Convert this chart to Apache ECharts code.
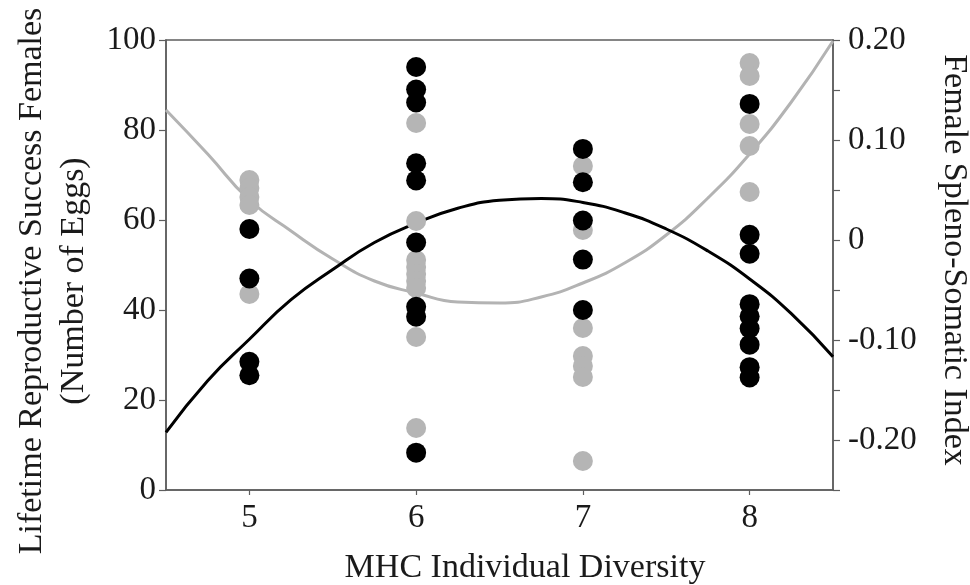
<!DOCTYPE html>
<html>
<head>
<meta charset="utf-8">
<script src="https://cdn.jsdelivr.net/npm/echarts@6.0.0/dist/echarts.min.js"></script>
<style>
html,body{margin:0;padding:0;background:#fff;}
#chart{width:970px;height:585px;}
</style>
</head>
<body>
<div id="chart"></div>
<script>
// Axis ticks / labels
const xTickValues = [5, 6, 7, 8];
const leftTicks = [0, 20, 40, 60, 80, 100];
const rightLabelValues = [-0.2, -0.1, 0, 0.1, 0.2];

// Lifetime reproductive success (black dots, left axis)
const lrsX = [5, 5, 5, 5,
              6, 6, 6, 6, 6, 6, 6, 6, 6,
              7, 7, 7, 7, 7,
              8, 8, 8, 8, 8, 8, 8, 8, 8];
const lrsY = [58.0, 47.0, 28.5, 25.5,
              94.0, 89.0, 86.1, 72.6, 68.8, 55.0, 40.7, 38.5, 8.3,
              75.8, 68.4, 59.9, 51.2, 40.0,
              85.8, 56.7, 52.5, 41.3, 38.6, 35.9, 32.3, 27.3, 25.0];

// Female spleno-somatic index (grey dots, right axis)
const ssiX = [5, 5, 5, 5, 5,
              6, 6, 6, 6, 6, 6, 6, 6, 6,
              7, 7, 7, 7, 7, 7, 7,
              8, 8, 8, 8, 8];
const ssiY = [0.060, 0.052, 0.043, 0.035, -0.054,
              0.117, 0.019, -0.020, -0.027, -0.034, -0.041, -0.048, -0.097, -0.188,
              0.074, 0.010, -0.088, -0.116, -0.126, -0.137, -0.221,
              0.177, 0.164, 0.116, 0.094, 0.048];

// Fitted curves at quarter steps
const curveX = [4.5, 4.75, 5, 5.25, 5.5, 5.75, 6, 6.25, 6.5, 6.75, 7, 7.25, 7.5, 7.75, 8, 8.25, 8.5];
const lrsCurve = [12.8, 24.3, 33.5, 42.3, 49.0, 55.0, 59.3, 62.6, 64.4, 64.8, 63.9, 61.6, 58.0, 53.1, 46.9, 39.2, 29.6];
const ssiCurve = [0.130, 0.086, 0.040, 0.009, -0.019, -0.041, -0.053, -0.062, -0.063, -0.057, -0.043, -0.023, 0.005, 0.042, 0.086, 0.138, 0.199];

const zip = (a, b) => a.map((v, i) => [v, b[i]]);

const FONT = '"Liberation Serif", "Times New Roman", serif';
const AXIS_COLOR = '#5e5e5e';
const TEXT_COLOR = '#1a1a1a';

const chart = echarts.init(document.getElementById('chart'), null, {renderer: 'canvas'});

chart.setOption({
  backgroundColor: '#ffffff',
  animation: false,
  grid: {
    left: 166, right: 137, top: 40, bottom: 95,
    show: true, borderColor: AXIS_COLOR, borderWidth: 1.5, backgroundColor: 'transparent'
  },
  xAxis: {
    type: 'value', min: 4.5, max: 8.5, interval: 0.5,
    axisLine: {show: true, onZero: false, lineStyle: {color: AXIS_COLOR, width: 1.5}},
    axisTick: {show: true, inside: false, length: 5, customValues: xTickValues, lineStyle: {color: AXIS_COLOR, width: 1.2}},
    axisLabel: {customValues: xTickValues, margin: 12, fontFamily: FONT, fontSize: 33, color: TEXT_COLOR},
    splitLine: {show: false}
  },
  yAxis: [
    {
      type: 'value', min: 0, max: 100, interval: 20, position: 'left',
      axisLine: {show: true, lineStyle: {color: AXIS_COLOR, width: 1.5}},
      axisTick: {show: true, inside: false, length: 7, lineStyle: {color: AXIS_COLOR, width: 1.2}},
      axisLabel: {margin: 10, fontFamily: FONT, fontSize: 33, color: TEXT_COLOR},
      splitLine: {show: false}
    },
    {
      type: 'value', min: -0.25, max: 0.2, interval: 0.05, position: 'right',
      axisLine: {show: true, lineStyle: {color: AXIS_COLOR, width: 1.5}},
      axisTick: {show: true, inside: false, length: 7, lineStyle: {color: AXIS_COLOR, width: 1.2}},
      axisLabel: {
        customValues: rightLabelValues, margin: 15, fontFamily: FONT, fontSize: 33, color: TEXT_COLOR,
        formatter: v => Math.abs(v) < 1e-9 ? '0' : v.toFixed(2)
      },
      splitLine: {show: false}
    }
  ],
  graphic: [
    {
      type: 'text', x: 53, y: 281, rotation: Math.PI / 2, z: 10,
      style: {
        text: 'Lifetime Reproductive Success Females\n(Number of Eggs)',
        font: '34px ' + FONT, fill: TEXT_COLOR, align: 'center', verticalAlign: 'middle', lineHeight: 42
      }
    },
    {
      type: 'text', x: 954, y: 260, rotation: -Math.PI / 2, z: 10,
      style: {
        text: 'Female Spleno-Somatic Index',
        font: '34px ' + FONT, fill: TEXT_COLOR, align: 'center', verticalAlign: 'middle'
      }
    },
    {
      type: 'text', x: 525, y: 568, z: 10,
      style: {
        text: 'MHC Individual Diversity',
        font: '34px ' + FONT, fill: TEXT_COLOR, align: 'center', verticalAlign: 'middle'
      }
    }
  ],
  series: [
    {
      name: 'SSI fit', type: 'line', yAxisIndex: 1, smooth: 0.5, symbol: 'none', z: 1,
      lineStyle: {color: '#b3b3b3', width: 3},
      data: zip(curveX, ssiCurve)
    },
    {
      name: 'LRS fit', type: 'line', yAxisIndex: 0, smooth: 0.5, symbol: 'none', z: 1,
      lineStyle: {color: '#000000', width: 3},
      data: zip(curveX, lrsCurve)
    },
    {
      name: 'SSI', type: 'scatter', yAxisIndex: 1, symbol: 'circle', symbolSize: 20, z: 2,
      itemStyle: {color: '#b5b5b5', opacity: 1},
      data: zip(ssiX, ssiY)
    },
    {
      name: 'LRS', type: 'scatter', yAxisIndex: 0, symbol: 'circle', symbolSize: 20, z: 3,
      itemStyle: {color: '#000000', opacity: 1},
      data: zip(lrsX, lrsY)
    }
  ]
});
</script>
</body>
</html>
